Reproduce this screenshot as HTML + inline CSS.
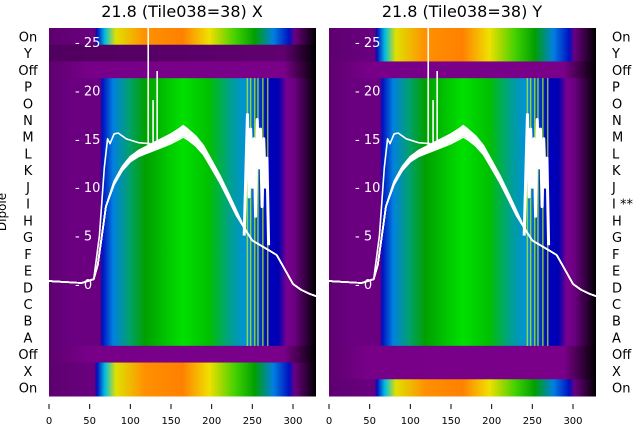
<!DOCTYPE html>
<html><head><meta charset="utf-8"><style>
body{margin:0;background:#fff;width:640px;height:440px;overflow:hidden;font-family:"DejaVu Sans","Liberation Sans",sans-serif}
</style></head><body>
<svg id="c" width="640" height="440" xmlns="http://www.w3.org/2000/svg" font-family="DejaVu Sans, Liberation Sans, sans-serif">
<defs>
<linearGradient id="gGreen" x1="0" x2="1">
<stop offset="0" stop-color="#5e0070"/><stop offset="0.08" stop-color="#6a0080"/><stop offset="0.19" stop-color="#6a0080"/><stop offset="0.2" stop-color="#0010c0"/>
<stop offset="0.24" stop-color="#0080e0"/><stop offset="0.3" stop-color="#00a070"/><stop offset="0.36" stop-color="#00a000"/>
<stop offset="0.5" stop-color="#00e000"/><stop offset="0.6" stop-color="#00c000"/><stop offset="0.68" stop-color="#00a090"/>
<stop offset="0.74" stop-color="#0090e0"/><stop offset="0.82" stop-color="#0000c0"/><stop offset="0.86" stop-color="#0000b0"/>
<stop offset="0.89" stop-color="#7a0090"/><stop offset="0.92" stop-color="#6a0080"/><stop offset="1" stop-color="#000"/>
</linearGradient>
<linearGradient id="gOrange" x1="0" x2="1">
<stop offset="0" stop-color="#5e0070"/><stop offset="0.17" stop-color="#6a0080"/><stop offset="0.18" stop-color="#0010c0"/>
<stop offset="0.21" stop-color="#00c0e0"/><stop offset="0.25" stop-color="#e0e000"/><stop offset="0.36" stop-color="#ff9000"/>
<stop offset="0.5" stop-color="#ff8000"/><stop offset="0.6" stop-color="#f0e000"/><stop offset="0.7" stop-color="#40d000"/>
<stop offset="0.77" stop-color="#00a000"/><stop offset="0.84" stop-color="#0080e0"/><stop offset="0.9" stop-color="#0010c0"/>
<stop offset="0.92" stop-color="#6a0080"/><stop offset="1" stop-color="#000"/>
</linearGradient>
<linearGradient id="gOff" x1="0" x2="1">
<stop offset="0" stop-color="#5e0070"/><stop offset="0.15" stop-color="#780088"/><stop offset="0.88" stop-color="#7a008a"/><stop offset="1" stop-color="#000"/>
</linearGradient>
<linearGradient id="gDark" x1="0" x2="1">
<stop offset="0" stop-color="#50005e"/><stop offset="0.88" stop-color="#600070"/><stop offset="1" stop-color="#000"/>
</linearGradient>
<clipPath id="clipL"><rect x="49" y="28" width="267" height="368"/></clipPath>
<clipPath id="clipR"><rect x="329" y="28" width="267" height="368"/></clipPath>
</defs>
</svg>
<script>
const rowLabels=["On","Y","Off","P","O","N","M","L","K","J","I","H","G","F","E","D","C","B","A","Off","X","On"];
const rowLabelsR=["On","Y","Off","P","O","N","M","L","K","J","I **","H","G","F","E","D","C","B","A","Off","X","On"];
const rowTypeX=["o","d","p","g","g","g","g","g","g","g","g","g","g","g","g","g","g","g","g","p","o","o"];
const rowTypeY=["o","o","p","g","g","g","g","g","g","g","g","g","g","g","g","g","g","g","g","p","p","o"];
const xTicks=[0,50,100,150,200,250,300];
const yTicks=[0,5,10,15,20,25];
const specX=[0,40,55,60,65,70,80,90,100,110,120,130,140,150,160,165,170,180,190,200,210,220,230,240,250,260,270,280,290,300,310,320,330];
const specY=[0.3,0.1,0.5,2,5,8,10.5,12,13,13.6,14,14.4,14.8,15.2,15.7,16,15.7,15,14,12.5,11,9.3,7.5,5.8,4.5,4,3.5,3,1.5,0,-0.6,-1,-1.3];
const curveOffsets=[0,-0.3,-0.6,0.2,-0.8,-0.45,0.35,-0.15];
const earlyX=[55,62,68,72,75,80,85,95,110,125];
const earlyY=[0.5,5,12,15,14.5,15.5,15.6,15,14.6,14.5];
const spikesX=[122,128,133];
const spikesY=[28,19,22];
const noiseX=[240,244,246,248,250,252,254,256,258,260,262,264,266,268,270];
const noiseY=[5,17.5,9,16,10,15,7,17,12,16,8,15,10,13,4];
const svg=document.getElementById('c');
const NS='http://www.w3.org/2000/svg';
function mk(t,a,p){const e=document.createElementNS(NS,t);for(const k in a)e.setAttribute(k,a[k]);(p||svg).appendChild(e);return e;}
const top0=28,rowH=368/22,k=0.8133;
function yv(v){return 284-v*9.68;}
function panel(x0,types,title,labels,side,clip,name){
  const g=mk('g',{});
  
  
  const w=267;
  types.forEach((t,i)=>{
    const fill=t==='o'?'url(#gOrange)':t==='g'?'url(#gGreen)':t==='d'?'url(#gDark)':'url(#gOff)';
    const r=mk('rect',{x:x0,y:top0+i*rowH,width:w,height:rowH+0.5,fill:fill},g);
    
    
  });
  [243,247,252,256,262,268].forEach(u=>{const r=mk('rect',{x:x0+u*k,y:78,width:1.5,height:268,fill:'#c0ff00',opacity:0.7},g);
    });
  const lg=mk('g',{'clip-path':clip,fill:'none',stroke:'#fff','stroke-width':1.6,'stroke-linejoin':'round'},g);
  curveOffsets.forEach((o,j)=>{
    let d='';specX.forEach((u,i)=>{const v=specY[i]+(u>70&&u<240?o*(1-Math.abs(u-165)/120):0);d+=(i?'L':'M')+(x0+u*k).toFixed(1)+','+yv(v).toFixed(1);});
    const p=mk('path',{d:d},lg);
  });
  let d='';earlyX.forEach((u,i)=>{d+=(i?'L':'M')+(x0+u*k)+','+yv(earlyY[i]);});
  const pe=mk('path',{d:d},lg);
  spikesX.forEach((u,i)=>{const p=mk('path',{d:'M'+(x0+u*k)+','+yv(14)+'L'+(x0+u*k)+','+yv(spikesY[i])},lg);
    });
  d='';noiseX.forEach((u,i)=>{d+=(i?'L':'M')+(x0+u*k)+','+yv(noiseY[i]);});
  const pn=mk('path',{d:d,'stroke-width':3},lg);
  yTicks.forEach(v=>{const t=mk('text',{x:x0+26,y:yv(v)+5,fill:'#fff','font-size':13},g);t.textContent='- '+v;
    });
  xTicks.forEach(v=>{const x=x0+v*k;mk('line',{x1:x,x2:x,y1:404,y2:409,stroke:'#000'},g);
    const t=mk('text',{x:x,y:424,'font-size':10,'text-anchor':'middle'},g);t.textContent=v;
    });
  const tt=mk('text',{x:x0+133,y:17,'font-size':16,'text-anchor':'middle'},g);tt.textContent=title;
  
  labels.forEach((l,i)=>{const t=mk('text',{x:side==='L'?x0-21:x0+w+16,y:top0+(i+0.5)*rowH+5,'font-size':13,'text-anchor':side==='L'?'middle':'start'},g);
    t.textContent=l;});
}
panel(49,rowTypeX,'21.8 (Tile038=38) X',rowLabels,'L','url(#clipL)','panel-x');
panel(329,rowTypeY,'21.8 (Tile038=38) Y',rowLabelsR,'R','url(#clipR)','panel-y');
const at=mk('text',{x:6,y:212,'font-size':12,'text-anchor':'middle',transform:'rotate(-90 6 212)'});
at.textContent='Dipole';


</script>
</body></html>
